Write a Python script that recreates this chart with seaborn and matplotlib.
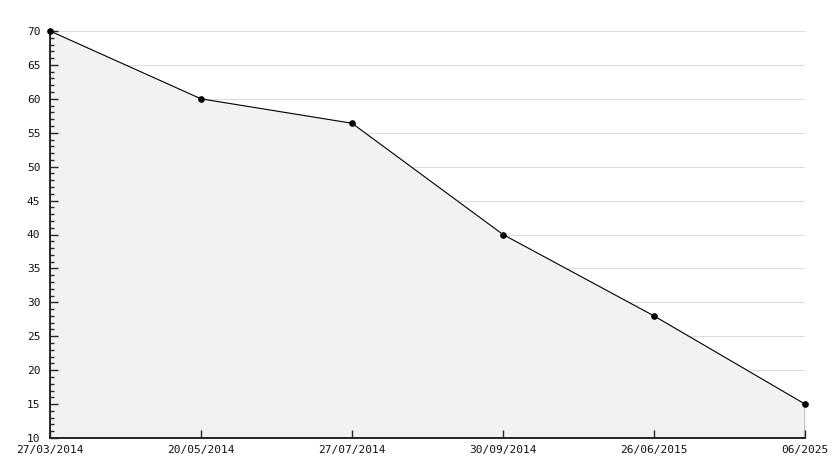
import numpy as np
import pandas as pd
import matplotlib
matplotlib.use("Agg")
import matplotlib.pyplot as plt
from matplotlib.ticker import MultipleLocator
import seaborn as sns

# Data
dates = ["27/03/2014", "20/05/2014", "27/07/2014", "30/09/2014", "26/06/2015", "06/2025"]
values = [70, 60, 56.4, 40, 28, 15]
grid_levels = np.arange(15, 71, 5)

df = pd.DataFrame({"pos": np.arange(len(dates)), "value": values})

sns.set_style("white")
plt.rcParams["font.family"] = ["DejaVu Sans Mono", "DejaVu Sans"]

fig = plt.figure(figsize=(8.34, 4.68), dpi=100)
ax = fig.add_axes([50 / 834, 30 / 468, 755 / 834, 407 / 468])

# horizontal grid lines, covered by the area where it lies
ax.hlines(grid_levels, 0, len(dates) - 1, color="#dddddd", linewidth=0.8, zorder=0.5)
# light gray area under the line
ax.fill_between(df["pos"], 10, df["value"], color="#f2f2f2", zorder=1)
sns.lineplot(data=df, x="pos", y="value", ax=ax, color="black", linewidth=0.8,
             marker="o", markersize=4, markeredgecolor="black", zorder=3, clip_on=False)
# closing edge of the area on the right
ax.vlines(df["pos"].iloc[-1], 10, df["value"].iloc[-1], color="black", linewidth=1, zorder=3)

ax.set_xlim(0, len(dates) - 1)
ax.set_ylim(10, 70)
ax.yaxis.set_major_locator(MultipleLocator(5))
ax.yaxis.set_minor_locator(MultipleLocator(1))
ax.set_xticks(df["pos"])
ax.set_xticklabels(dates)

ax.grid(False)
ax.set_axisbelow(False)

for side in ["top", "right"]:
    ax.spines[side].set_visible(False)
for side in ["left", "bottom"]:
    ax.spines[side].set_color("black")
    ax.spines[side].set_linewidth(1.2)

ax.tick_params(axis="y", which="major", direction="in", length=6, width=1,
               labelsize=8, pad=7, left=True, labelcolor="#111111")
ax.tick_params(axis="y", which="minor", direction="in", length=3, width=1, left=True)
ax.tick_params(axis="x", which="major", direction="in", length=6, width=1,
               labelsize=8, pad=5, bottom=True, labelcolor="#111111")
ax.set_xlabel("")
ax.set_ylabel("")

plt.savefig("out.png", dpi=100)
plt.close()
